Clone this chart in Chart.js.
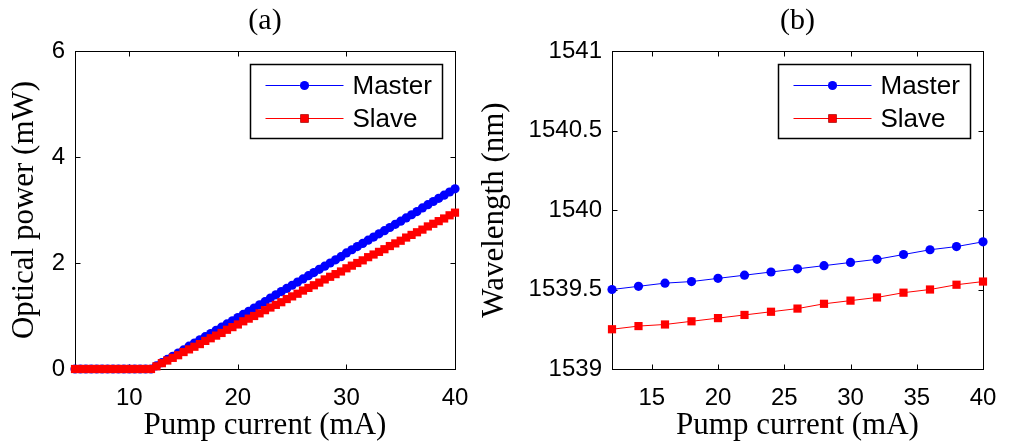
<!DOCTYPE html>
<html>
<head>
<meta charset="utf-8">
<script src="https://cdn.jsdelivr.net/npm/chart.js@4.4.0/dist/chart.umd.min.js"></script>
<style>
  html, body { margin: 0; padding: 0; background: #fff; }
  #wrap { position: relative; width: 1013px; height: 446px; overflow: hidden; }
  canvas { position: absolute; top: 0; }
</style>
</head>
<body>
<div id="wrap">
  <canvas id="chartA" width="490" height="446" style="left:0"></canvas>
  <canvas id="chartB" width="543" height="446" style="left:470px"></canvas>
</div>
<script>
// (a) optical power vs pump current
var currentA = [5, 5.5, 6, 6.5, 7, 7.5, 8, 8.5, 9, 9.5, 10, 10.5, 11, 11.5, 12,
    12.5, 13, 13.5, 14, 14.5, 15, 15.5, 16, 16.5, 17, 17.5, 18, 18.5, 19, 19.5, 20,
    20.5, 21, 21.5, 22, 22.5, 23, 23.5, 24, 24.5, 25, 25.5, 26, 26.5, 27, 27.5, 28,
    28.5, 29, 29.5, 30, 30.5, 31, 31.5, 32, 32.5, 33, 33.5, 34, 34.5, 35, 35.5, 36,
    36.5, 37, 37.5, 38, 38.5, 39, 39.5, 40];
var powerMaster = [0, 0, 0, 0, 0, 0, 0, 0, 0, 0, 0, 0, 0, 0, 0,
    0.06, 0.12, 0.18, 0.24, 0.30, 0.36, 0.43, 0.49, 0.55, 0.61, 0.67, 0.73, 0.79, 0.85, 0.91, 0.97,
    1.03, 1.09, 1.15, 1.21, 1.27, 1.34, 1.40, 1.46, 1.52, 1.58, 1.64, 1.70, 1.76, 1.82, 1.88, 1.94,
    2.00, 2.06, 2.12, 2.19, 2.25, 2.31, 2.37, 2.43, 2.49, 2.55, 2.61, 2.67, 2.73, 2.79, 2.85, 2.91,
    2.97, 3.04, 3.10, 3.16, 3.22, 3.28, 3.34, 3.40];
var powerSlave = [0, 0, 0, 0, 0, 0, 0, 0, 0, 0, 0, 0, 0, 0, 0,
    0.05, 0.11, 0.16, 0.21, 0.26, 0.32, 0.37, 0.42, 0.47, 0.53, 0.58, 0.63, 0.68, 0.74, 0.79, 0.84,
    0.90, 0.95, 1.00, 1.05, 1.11, 1.16, 1.21, 1.26, 1.32, 1.37, 1.42, 1.48, 1.53, 1.58, 1.63, 1.69,
    1.74, 1.79, 1.84, 1.90, 1.95, 2.00, 2.05, 2.11, 2.16, 2.21, 2.26, 2.32, 2.37, 2.42, 2.48, 2.53,
    2.58, 2.63, 2.69, 2.74, 2.79, 2.84, 2.90, 2.95];
var xTicksA = [10, 20, 30, 40];
var yTicksA = [0, 2, 4, 6];

// (b) wavelength vs pump current
var currentB = [12, 14, 16, 18, 20, 22, 24, 26, 28, 30, 32, 34, 36, 38, 40];
var waveMaster = [1539.50, 1539.52, 1539.54, 1539.55, 1539.57, 1539.59, 1539.61, 1539.63,
    1539.65, 1539.67, 1539.69, 1539.72, 1539.75, 1539.77, 1539.80];
var waveSlave = [1539.25, 1539.27, 1539.28, 1539.30, 1539.32, 1539.34, 1539.36, 1539.38,
    1539.41, 1539.43, 1539.45, 1539.48, 1539.50, 1539.53, 1539.55];
var xTicksB = [15, 20, 25, 30, 35, 40];
var yTicksB = [1539, 1539.5, 1540, 1540.5, 1541];

var seriesNames = ['Master', 'Slave'];
var seriesColors = ['#0000ff', '#ff0000'];

function points(xs, ys) {
    return xs.map(function(x, i) { return {x: x, y: ys[i]}; });
}

// box, inward ticks, panel title and legend, drawn the MATLAB way
var matlabAxes = {
    id: 'matlabAxes',
    beforeDatasetsDraw: function(chart) {
        var ctx = chart.ctx, a = chart.chartArea;
        var L = Math.round(a.left) + 0.5, R = Math.round(a.right) + 0.5;
        var T = Math.round(a.top) + 0.5, B = Math.round(a.bottom) + 0.5;
        ctx.save();
        ctx.strokeStyle = '#000';
        ctx.lineWidth = 1;
        ctx.strokeRect(L, T, R - L, B - T);
        ctx.beginPath();
        chart.scales.x.ticks.forEach(function(t) {
            var px = Math.round(chart.scales.x.getPixelForValue(t.value)) + 0.5;
            ctx.moveTo(px, B); ctx.lineTo(px, B - 5);
            ctx.moveTo(px, T); ctx.lineTo(px, T + 5);
        });
        chart.scales.y.ticks.forEach(function(t) {
            var py = Math.round(chart.scales.y.getPixelForValue(t.value)) + 0.5;
            ctx.moveTo(L, py); ctx.lineTo(L + 5, py);
            ctx.moveTo(R, py); ctx.lineTo(R - 5, py);
        });
        ctx.stroke();
        ctx.restore();
    },
    afterDraw: function(chart) {
        var ctx = chart.ctx, a = chart.chartArea;
        var opts = chart.options.plugins.matlabAxes;
        ctx.save();
        // panel title
        ctx.fillStyle = '#000';
        ctx.font = '30px "Liberation Serif"';
        ctx.textAlign = 'center';
        ctx.textBaseline = 'middle';
        ctx.fillText(opts.title, (a.left + a.right) / 2, 21);
        // legend
        var w = 192, h = 74;
        var bx = Math.round(a.right - 13 - w) + 0.5, by = Math.round(a.top + 13) + 0.5;
        ctx.fillStyle = '#fff';
        ctx.fillRect(bx, by, w, h);
        ctx.strokeStyle = '#000';
        ctx.lineWidth = 1.5;
        ctx.strokeRect(bx, by, w, h);
        ctx.font = '26px "Liberation Sans"';
        ctx.textAlign = 'left';
        chart.data.datasets.forEach(function(ds, i) {
            var yy = by + 21 + i * 33;
            ctx.strokeStyle = ds.borderColor;
            ctx.lineWidth = 1;
            ctx.beginPath();
            ctx.moveTo(bx + 15, yy); ctx.lineTo(bx + 93, yy);
            ctx.stroke();
            Chart.helpers.drawPoint(ctx, {pointStyle: ds.pointStyle, radius: ds.pointRadius, borderWidth: 0}, bx + 54, yy);
            ctx.fillStyle = ds.pointBackgroundColor;
            ctx.fill();
            ctx.fillStyle = '#000';
            ctx.fillText(ds.label, bx + 102, yy + 1);
        });
        ctx.restore();
    }
};

function makeChart(id, xs, ys1, ys2, xr, yr, xTicks, yTicks, yW, padR, xTitle, yTitle, panel) {
    var sets = [ys1, ys2].map(function(ys, i) {
        return {
            label: seriesNames[i],
            data: points(xs, ys),
            borderColor: seriesColors[i],
            backgroundColor: seriesColors[i],
            pointBackgroundColor: seriesColors[i],
            pointBorderWidth: 0,
            pointStyle: i === 0 ? 'circle' : 'rect',
            pointRadius: i === 0 ? 4.6 : 5.8,
            borderWidth: 1,
            order: 2 - i,
            clip: false
        };
    });
    return new Chart(document.getElementById(id), {
        type: 'line',
        data: {datasets: sets},
        plugins: [matlabAxes],
        options: {
            responsive: false,
            animation: false,
            layout: {padding: {top: 51, right: padR, left: 0, bottom: 0}},
            plugins: {
                legend: {display: false},
                tooltip: {enabled: false},
                matlabAxes: {title: panel}
            },
            scales: {
                x: {
                    type: 'linear',
                    min: xr[0], max: xr[1],
                    grid: {display: false, drawTicks: false},
                    border: {display: false},
                    afterBuildTicks: function(s) { s.ticks = xTicks.map(function(v) { return {value: v}; }); },
                    afterFit: function(s) { s.height = 77; },
                    ticks: {
                        color: '#000', padding: 15, maxRotation: 0,
                        font: {family: 'Liberation Sans', size: 24},
                        callback: function(v) { return String(v); }
                    },
                    title: {
                        display: true, text: xTitle, color: '#000',
                        font: {family: 'Liberation Serif', size: 31},
                        padding: {top: 0, bottom: 2}
                    }
                },
                y: {
                    min: yr[0], max: yr[1],
                    grid: {display: false, drawTicks: false},
                    border: {display: false},
                    afterBuildTicks: function(s) { s.ticks = yTicks.map(function(v) { return {value: v}; }); },
                    afterFit: function(s) { s.width = yW; },
                    ticks: {
                        color: '#000', padding: 10,
                        font: {family: 'Liberation Sans', size: 24},
                        callback: function(v) { return String(v); }
                    },
                    title: {
                        display: true, text: yTitle, color: '#000',
                        font: {family: 'Liberation Serif', size: 31},
                        padding: {top: 6, bottom: 0}
                    }
                }
            }
        }
    });
}

makeChart('chartA', currentA, powerMaster, powerSlave, [5, 40], [0, 6], xTicksA, yTicksA,
    75, 35, 'Pump current (mA)', 'Optical power (mW)', '(a)');
makeChart('chartB', currentB, waveMaster, waveSlave, [12, 40], [1539, 1541], xTicksB, yTicksB,
    142, 30, 'Pump current (mA)', 'Wavelength (nm)', '(b)');
</script>
</body>
</html>
